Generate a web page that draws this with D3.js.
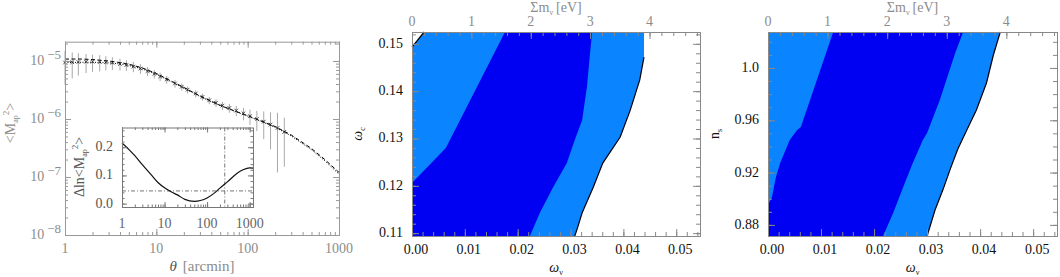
<!DOCTYPE html>
<html>
<head>
<meta charset="utf-8">
<script src="https://cdn.jsdelivr.net/npm/d3@7"></script>
<style>
  body { margin: 0; background: #fff; }
  svg text { font-family: "Liberation Serif", "DejaVu Serif", serif; }
</style>
</head>
<body>
<svg id="fig" width="1060" height="277"></svg>
<script>
// ---- left panel: <M_ap^2>(theta), measured points + two models
const thetaObs = [1.0, 1.2, 1.4, 1.7, 2.0, 2.4, 2.8, 3.3, 4.0, 4.7, 5.6, 6.7, 8.0, 9.5, 11, 13, 16, 19, 22, 27, 32, 38, 45, 53, 63, 75, 90, 106, 126, 150, 178, 212, 252];
const mapObs = [9.4e-6, 9.5e-6, 9.6e-6, 9.7e-6, 9.7e-6, 9.6e-6, 9.5e-6, 9.3e-6, 8.9e-6, 8.5e-6, 8.0e-6, 7.4e-6, 6.7e-6, 6.0e-6, 5.4e-6, 4.8e-6, 4.1e-6, 3.6e-6, 3.2e-6, 2.75e-6, 2.4e-6, 2.1e-6, 1.9e-6, 1.7e-6, 1.55e-6, 1.4e-6, 1.25e-6, 1.12e-6, 1.0e-6, 9.0e-7, 8.0e-7, 7.0e-7, 6.0e-7];
const mapErr = [5.5e-6, 4.5e-6, 4.0e-6, 3.5e-6, 3.2e-6, 3.0e-6, 2.6e-6, 2.3e-6, 2.0e-6, 1.8e-6, 1.6e-6, 1.4e-6, 1.2e-6, 1.0e-6, 0.9e-6, 0.75e-6, 0.62e-6, 0.52e-6, 0.45e-6, 0.38e-6, 0.33e-6, 0.3e-6, 0.28e-6, 0.27e-6, 0.27e-6, 0.28e-6, 0.3e-6, 0.33e-6, 0.38e-6, 0.45e-6, 0.5e-6, 5.8e-7, 4.5e-7];
const thetaModel = [1, 1.5, 2, 3, 4, 5, 7, 10, 15, 20, 30, 50, 70, 100, 150, 200, 300, 500, 700, 1000];
const mapDashed = [1.08e-5, 1.08e-5, 1.06e-5, 1.0e-5, 9.4e-6, 8.8e-6, 7.6e-6, 6.1e-6, 4.4e-6, 3.5e-6, 2.5e-6, 1.72e-6, 1.4e-6, 1.14e-6, 8.9e-7, 7.4e-7, 5.3e-7, 3.1e-7, 2.0e-7, 1.2e-7];
const mapDotted = [9.4e-6, 9.5e-6, 9.5e-6, 9.3e-6, 8.9e-6, 8.4e-6, 7.3e-6, 5.9e-6, 4.3e-6, 3.4e-6, 2.45e-6, 1.7e-6, 1.38e-6, 1.12e-6, 8.7e-7, 7.2e-7, 5.1e-7, 2.95e-7, 1.9e-7, 1.12e-7];
const leftXTicks = [1, 10, 100, 1000];
const leftYExp = [-8, -7, -6, -5];

// inset: Delta ln <M_ap^2>
const thetaInset = [1, 1.5, 2, 3, 5, 7, 10, 15, 20, 30, 50, 70, 100, 150, 200, 300, 500, 700, 1000, 1200];
const dlnInset = [0.215, 0.19, 0.17, 0.138, 0.1, 0.075, 0.056, 0.04, 0.031, 0.015, 0.008, 0.011, 0.02, 0.038, 0.055, 0.077, 0.107, 0.12, 0.127, 0.126];
const insetVLine = 260;
const insetHLine = 0.045;
const insetXTicks = [1, 10, 100, 1000];
const insetYTicks = [0.0, 0.1, 0.2];

// ---- middle panel: omega_c vs omega_nu
const wcOuter = [[0.0023, 0.1525], [0.0439, 0.1525], [0.0439, 0.1472], [0.0431, 0.1424], [0.0413, 0.1360], [0.0394, 0.1303], [0.0361, 0.1248], [0.0343, 0.1197], [0.0322, 0.1143], [0.0312, 0.1107], [0.0308, 0.1094], [0, 0.1094], [0, 0.1493]];
const wcEdge = [[0.0439, 0.1472], [0.0431, 0.1424], [0.0413, 0.1360], [0.0394, 0.1303], [0.0361, 0.1248], [0.0343, 0.1197], [0.0322, 0.1143], [0.0312, 0.1107], [0.0308, 0.1094]];
const wcCorner = [[0, 0.1493], [0.0023, 0.1525]];
const wcInner = [[0.0176, 0.1525], [0.0341, 0.1525], [0.0337, 0.1481], [0.0331, 0.1409], [0.0322, 0.1339], [0.0308, 0.1297], [0.0293, 0.1248], [0.0267, 0.1197], [0.0242, 0.1143], [0.0223, 0.1094], [0, 0.1094], [0, 0.1206], [0.0064, 0.1280]];
const wcTicks = [0.11, 0.12, 0.13, 0.14, 0.15];

// ---- right panel: n_s vs omega_nu
const nsOuter = [[0, 1.0275], [0.0438, 1.0275], [0.0425, 1.0099], [0.0412, 0.9885], [0.0393, 0.9679], [0.0372, 0.9500], [0.0358, 0.9380], [0.0344, 0.9230], [0.0330, 0.9070], [0.0315, 0.8914], [0.0300, 0.8715], [0, 0.8715]];
const nsEdge = [[0.0438, 1.0275], [0.0425, 1.0099], [0.0412, 0.9885], [0.0393, 0.9679], [0.0372, 0.9500], [0.0358, 0.9380], [0.0344, 0.9230], [0.0330, 0.9070], [0.0315, 0.8914], [0.0300, 0.8715]];
const nsInner = [[0.0123, 1.0275], [0.0368, 1.0275], [0.0353, 1.0114], [0.0324, 0.9755], [0.0300, 0.9503], [0.0292, 0.9449], [0.0273, 0.9273], [0.0255, 0.9090], [0.0236, 0.8891], [0.0217, 0.8715], [0, 0.8715], [0, 0.8952], [0.00075, 0.9013], [0.0015, 0.9166], [0.0023, 0.9273], [0.0041, 0.9449], [0.0055, 0.9526], [0.0062, 0.9549]];
const nsTicks = [0.88, 0.92, 0.96, 1.0];

const omegaTicks = [0, 0.01, 0.02, 0.03, 0.04, 0.05];
const mnuTicks = [0, 1, 2, 3, 4];

const LIGHT = '#0a84ff', DARK = '#0000f2';
const GRAY = '#8c8c8c';
const FS = 14;

const svg = d3.select('#fig');

// inward ticks on all four sides plus frame
function box(g, o) {
  const x = o.x, y = o.y, xt = o.xt || o.x;
  const [x0, x1] = x.range(), [y0, y1] = y.range();
  const rows = [
    [d3.axisBottom, x, 0, y0, o.xMaj, o.xMin],
    [d3.axisTop, xt, 0, y1, o.xtMaj || o.xMaj, o.xtMin || o.xMin],
    [d3.axisLeft, y, x0, 0, o.yMaj, o.yMin],
    [d3.axisRight, y, x1, 0, o.yMaj, o.yMin]
  ];
  rows.forEach(([fn, s, tx, ty, maj, min]) => {
    [[maj, o.big], [min, o.small]].forEach(([vals, len]) => {
      g.append('g').attr('transform', `translate(${tx},${ty})`)
        .call(fn(s).tickValues(vals).tickSize(-len).tickFormat(''))
        .call(a => a.select('.domain').remove())
        .selectAll('line').attr('stroke', o.color);
    });
  });
  g.append('rect')
    .attr('x', x0 + 0.5).attr('y', y1 + 0.5)
    .attr('width', x1 - x0).attr('height', y0 - y1)
    .attr('fill', 'none').attr('stroke', o.color);
}

// ================= left panel
const xL = d3.scaleLog().domain([1, 1000]).range([65, 339]);
const yL = d3.scaleLog().domain([1e-8, 2.15e-5]).range([235, 41.7]);
const gL = svg.append('g');

// error bars
gL.append('g').selectAll('line').data(thetaObs).join('line')
  .attr('x1', (d) => xL(d)).attr('x2', (d) => xL(d))
  .attr('y1', (d, i) => yL(mapObs[i] + mapErr[i]))
  .attr('y2', (d, i) => yL(Math.max(mapObs[i] - mapErr[i], 1e-8)))
  .attr('stroke', '#a8a8a8').attr('stroke-width', 1);

const lineL = (vals) => d3.line().x((d) => xL(d)).y((d, i) => yL(vals[i]))(thetaModel);
gL.append('path').attr('d', lineL(mapDashed)).attr('fill', 'none')
  .attr('stroke', '#000').attr('stroke-width', 1).attr('stroke-dasharray', '4,2.5');
gL.append('path').attr('d', lineL(mapDotted)).attr('fill', 'none')
  .attr('stroke', '#000').attr('stroke-width', 1).attr('stroke-dasharray', '1,1.5');

// star symbols
gL.append('g').selectAll('path').data(thetaObs).join('path')
  .attr('d', d3.symbol(d3.symbolTimes, 10))
  .attr('transform', (d, i) => `translate(${xL(d)},${yL(mapObs[i])})`)
  .attr('fill', 'none').attr('stroke', '#222').attr('stroke-width', 0.8);

box(gL, {
  x: xL, y: yL, color: '#999', big: 6, small: 3,
  xMaj: leftXTicks, xMin: xL.ticks(),
  yMaj: leftYExp.map((e) => Math.pow(10, e)), yMin: yL.ticks()
});

gL.selectAll('.xl').data(leftXTicks).join('text')
  .attr('x', (d) => xL(d)).attr('y', 253).attr('text-anchor', 'middle')
  .attr('font-size', FS).attr('fill', GRAY).text((d) => d);
gL.selectAll('.yl').data(leftYExp).join('text')
  .attr('x', 61).attr('y', (d) => yL(Math.pow(10, d)) + 4)
  .attr('text-anchor', 'end').attr('font-size', FS).attr('fill', GRAY)
  .each(function (d) {
    const t = d3.select(this);
    t.append('tspan').text('10');
    t.append('tspan').attr('dx', 3).attr('dy', -6).attr('font-size', 13).text('\u2212' + (-d));
  });

const xLab = gL.append('text').attr('x', 202).attr('y', 271).attr('text-anchor', 'middle')
  .attr('font-size', 15).attr('fill', GRAY);
xLab.append('tspan').attr('font-style', 'italic').attr('fill', '#555').text('\u03b8');
xLab.append('tspan').attr('dx', 6).text('[arcmin]');

const yLab = gL.append('text').attr('transform', 'translate(15,123) rotate(-90)')
  .attr('text-anchor', 'middle').attr('font-size', 14).attr('fill', GRAY);
yLab.append('tspan').text('<M');
yLab.append('tspan').attr('font-size', 8).attr('dy', 3).text('ap');
yLab.append('tspan').attr('font-size', 9).attr('dy', -9).text('2');
yLab.append('tspan').attr('dy', 6).text('>');

// inset
const xI = d3.scaleLog().domain([1, 1200]).range([122, 253]);
const yI = d3.scaleLinear().domain([-0.012, 0.27]).range([207, 127.5]);
const gI = svg.append('g');
gI.append('rect').attr('x', 122).attr('y', 127.5).attr('width', 131).attr('height', 79.5).attr('fill', '#fff');
gI.append('line').attr('x1', xI(insetVLine)).attr('x2', xI(insetVLine))
  .attr('y1', 127.5).attr('y2', 207).attr('stroke', '#777').attr('stroke-dasharray', '4,2,1,2');
gI.append('line').attr('x1', 122).attr('x2', 253)
  .attr('y1', yI(insetHLine)).attr('y2', yI(insetHLine)).attr('stroke', '#777').attr('stroke-dasharray', '4,2,1,2');
gI.append('path')
  .attr('d', d3.line().curve(d3.curveMonotoneX).x((d) => xI(d)).y((d, i) => yI(dlnInset[i]))(thetaInset))
  .attr('fill', 'none').attr('stroke', '#111').attr('stroke-width', 1.2);
box(gI, {
  x: xI, y: yI, color: '#777', big: 5, small: 2.5,
  xMaj: insetXTicks, xMin: xI.ticks().filter((d) => d <= 1200),
  yMaj: insetYTicks, yMin: d3.range(0, 0.27, 0.02)
});
gI.selectAll('.xi').data(insetXTicks).join('text')
  .attr('x', (d) => xI(d)).attr('y', 228).attr('text-anchor', 'middle')
  .attr('font-size', FS).attr('fill', '#666').text((d) => d);
gI.selectAll('.yi').data(insetYTicks).join('text')
  .attr('x', 113).attr('y', (d) => yI(d) + 4).attr('text-anchor', 'end')
  .attr('font-size', FS).attr('fill', '#555').text((d) => d.toFixed(1));
const iLab = gI.append('text').attr('transform', 'translate(84,167) rotate(-90)')
  .attr('text-anchor', 'middle').attr('font-size', 14).attr('fill', '#555');
iLab.append('tspan').text('\u0394ln<M');
iLab.append('tspan').attr('font-size', 8).attr('dy', 3).text('ap');
iLab.append('tspan').attr('font-size', 9).attr('dy', -9).text('2');
iLab.append('tspan').attr('dy', 6).text('>');

// ================= contour panels
function contourPanel(o) {
  const g = svg.append('g');
  const x = d3.scaleLinear().domain([0, 0.0545]).range(o.xr);
  const xt = d3.scaleLinear().domain([0, 4.85]).range(o.xr);
  const y = d3.scaleLinear().domain(o.yd).range([236, 32]);
  const area = d3.line().x((d) => x(d[0])).y((d) => y(d[1])).curve(d3.curveLinearClosed);
  const line = d3.line().x((d) => x(d[0])).y((d) => y(d[1]));
  g.append('path').attr('d', area(o.outer)).attr('fill', LIGHT);
  g.append('path').attr('d', area(o.inner)).attr('fill', DARK);
  o.edges.forEach((e) => g.append('path').attr('d', line(e)).attr('fill', 'none').attr('stroke', '#000').attr('stroke-width', 1.2));

  box(g, {
    x, y, xt, color: '#888', big: 7, small: 4,
    xMaj: omegaTicks, xMin: d3.range(0, 0.0545, 0.002),
    xtMaj: mnuTicks, xtMin: d3.range(0, 4.85, 0.2),
    yMaj: o.yTicks, yMin: d3.range(o.yMinStart, o.yd[1], o.yMinStep)
  });
  g.selectAll('.xb').data(omegaTicks).join('text')
    .attr('x', (d) => x(d) + 4).attr('y', 254).attr('text-anchor', 'middle')
    .attr('font-size', FS).attr('fill', '#111').text((d) => d.toFixed(2));
  g.selectAll('.xt').data(mnuTicks).join('text')
    .attr('x', (d) => xt(d)).attr('y', 26).attr('text-anchor', 'middle')
    .attr('font-size', FS).attr('fill', GRAY).text((d) => d);
  g.selectAll('.yt').data(o.yTicks).join('text')
    .attr('x', o.xr[0] - 9).attr('y', (d) => y(d) + 4).attr('text-anchor', 'end')
    .attr('font-size', FS).attr('fill', '#111').text(o.yFmt);

  const cx = (o.xr[0] + o.xr[1]) / 2;
  const top = g.append('text').attr('x', cx).attr('y', 12).attr('text-anchor', 'middle')
    .attr('font-size', 14).attr('fill', GRAY);
  top.append('tspan').text('\u03a3m');
  top.append('tspan').attr('font-size', 8).attr('dy', 3).text('\u03bd');
  top.append('tspan').attr('dy', -3).attr('dx', 3).text('[eV]');

  const bot = g.append('text').attr('x', cx).attr('y', 272).attr('text-anchor', 'middle')
    .attr('font-size', 14).attr('fill', '#111');
  bot.append('tspan').attr('font-style', 'italic').text('\u03c9');
  bot.append('tspan').attr('font-size', 8).attr('dy', 3).text('\u03bd');

  const yl = g.append('text').attr('transform', `translate(${o.ylx},134) rotate(-90)`)
    .attr('text-anchor', 'middle').attr('font-size', 14).attr('fill', '#111');
  yl.append('tspan').attr('font-style', o.yItalic ? 'italic' : 'normal').text(o.yName);
  yl.append('tspan').attr('font-size', 8).attr('dy', 3).text(o.ySub);
}

contourPanel({
  xr: [412, 700], yd: [0.1094, 0.1525], outer: wcOuter, inner: wcInner,
  edges: [wcEdge, wcCorner], yTicks: wcTicks, yFmt: (d) => d.toFixed(2),
  yMinStart: 0.110, yMinStep: 0.002, ylx: 362, yName: '\u03c9', ySub: 'c', yItalic: true
});
contourPanel({
  xr: [768, 1057], yd: [0.8715, 1.0275], outer: nsOuter, inner: nsInner,
  edges: [nsEdge], yTicks: nsTicks, yFmt: (d) => (d === 1 ? '1.0' : d.toFixed(2)),
  yMinStart: 0.88, yMinStep: 0.01, ylx: 719, yName: 'n', ySub: 's', yItalic: false
});
</script>
</body>
</html>
